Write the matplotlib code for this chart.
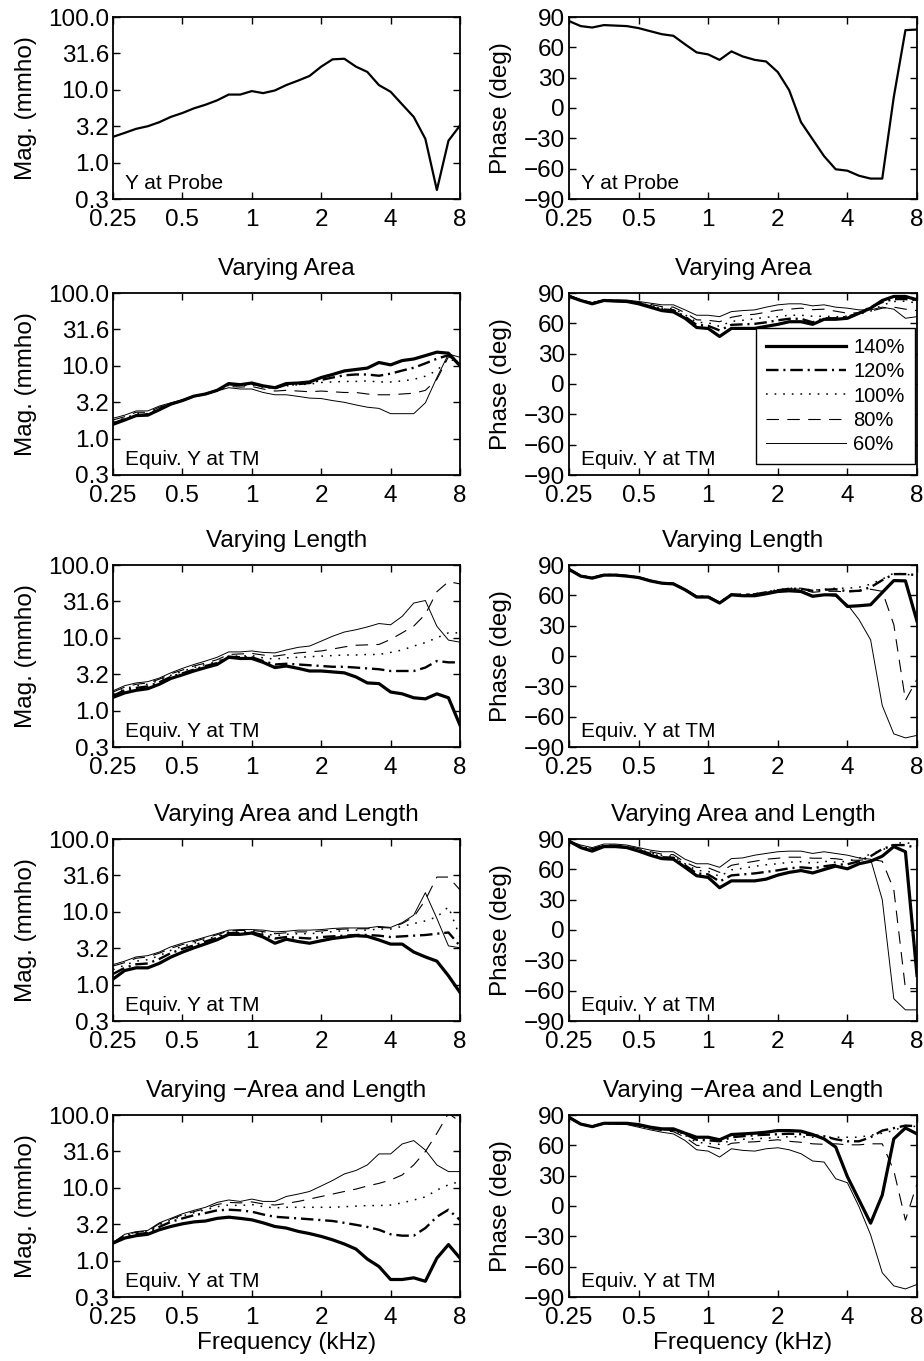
import matplotlib
matplotlib.use("Agg")
import matplotlib.pyplot as plt
from matplotlib.ticker import NullLocator

plt.rcParams['font.family'] = ['Liberation Sans', 'DejaVu Sans']
plt.rcParams['lines.scale_dashes'] = False

# ---------------- data ----------------
freq = [0.25, 0.281, 0.315, 0.354, 0.397, 0.445, 0.5, 0.561, 0.630, 0.707, 0.794, 0.891,
        1.0, 1.12, 1.26, 1.41, 1.59, 1.78, 2.0, 2.24, 2.52, 2.83, 3.17, 3.56, 4.0, 4.49,
        5.04, 5.66, 6.35, 7.13, 8.0]

series_labels = ['140%', '120%', '100%', '80%', '60%']
row_titles = [None, 'Varying Area', 'Varying Length', 'Varying Area and Length',
              'Varying \u2212Area and Length']
x_ticks = [0.25, 0.5, 1, 2, 4, 8]
x_ticklabels = ['0.25', '0.5', '1', '2', '4', '8']
mag_ticks = [10 ** -0.5, 1.0, 10 ** 0.5, 10.0, 10 ** 1.5, 100.0]
mag_ticklabels = ['0.3', '1.0', '3.2', '10.0', '31.6', '100.0']
phase_ticks = [-90, -60, -30, 0, 30, 60, 90]
phase_ticklabels = ['\u221290', '\u221260', '\u221230', '0', '30', '60', '90']

probe_mag = [2.26, 2.56, 2.91, 3.16, 3.59, 4.24, 4.8, 5.56, 6.24, 7.16, 8.6, 8.6, 9.6, 9.0, 9.8,
             11.6, 13.4, 15.5, 20.8, 26.2, 26.7, 20.8, 17.6, 11.6, 9.4, 6.3, 4.24, 2.12, 0.42, 2.0, 3.23]
probe_phase = [86, 81, 79.6, 82, 81.5, 81, 79, 76, 73, 71.4, 63, 55, 53, 47.6, 56, 51, 47.6, 46,
               35.5, 17.6, -14, -31, -47.6, -60.6, -62, -67, -69.8, -69.8, 11, 77, 77.6]

# Varying Area
area_mag_140 = [1.57, 1.80, 2.07, 2.1, 2.49, 2.97, 3.33, 3.83, 4.1, 4.6, 5.7, 5.5, 5.8, 5.3, 5.0,
                5.7, 5.8, 6.0, 6.9, 7.6, 8.5, 8.9, 9.3, 11.1, 10.3, 11.8, 12.4, 13.8, 15.4, 14.9, 10.0]
area_mag_120 = [1.62, 1.85, 2.1, 2.15, 2.55, 2.97, 3.33, 3.83, 4.1, 4.6, 5.6, 5.4, 5.7, 5.2, 4.9,
                5.5, 5.6, 5.8, 6.4, 6.9, 7.4, 7.6, 7.6, 7.3, 7.8, 8.6, 9.4, 10.8, 12.5, 14.0, 10.5]
area_mag_100 = [1.7, 1.9, 2.2, 2.2, 2.6, 3.0, 3.35, 3.83, 4.1, 4.6, 5.4, 5.3, 5.5, 5.1, 5.0,
                5.3, 5.5, 5.6, 5.9, 6.0, 6.1, 6.1, 6.2, 6.0, 6.0, 6.2, 6.5, 7.2, 8.6, 12.5, 11.0]
area_mag_80 = [1.8, 2.0, 2.3, 2.3, 2.7, 3.05, 3.4, 3.83, 4.1, 4.55, 5.2, 5.1, 5.2, 4.8, 4.5,
               4.6, 4.5, 4.4, 4.5, 4.4, 4.3, 4.3, 4.1, 4.0, 4.0, 4.1, 4.2, 4.6, 6.5, 13.3, 12.0]
area_mag_60 = [1.9, 2.1, 2.4, 2.4, 2.8, 3.1, 3.4, 3.83, 4.1, 4.5, 5.0, 4.8, 4.8, 4.3, 4.0,
               4.0, 3.8, 3.6, 3.55, 3.33, 3.15, 2.9, 2.7, 2.6, 2.2, 2.2, 2.2, 3.1, 6.9, 14.5, 13.1]

area_ph_140 = [86.7, 82.6, 79.3, 82.6, 82, 81.6, 79.3, 76, 72.6, 71.3, 65, 55.9, 54.9, 47, 55,
               55, 55, 57, 59, 61.6, 61.6, 59, 64, 64, 65, 70, 75, 82.6, 86.6, 86.6, 83.3]
area_ph_120 = [87, 82.7, 79.6, 82.7, 82.2, 81.9, 79.8, 76.9, 73.8, 73, 66.5, 58.5, 57.5, 53, 58.5,
               59, 59.5, 61, 63, 64.5, 64.5, 61, 65, 65, 66.5, 70, 76, 81, 84, 84, 83]
area_ph_100 = [87.3, 82.8, 80, 82.8, 82.5, 82.2, 80.3, 77.8, 75, 74.5, 68.5, 61, 60.5, 57, 62,
               63, 64.5, 66, 66.6, 68, 68, 67, 67, 66.5, 67, 69, 72, 78, 81.6, 82, 80]
area_ph_80 = [87.5, 83, 80.3, 83, 82.7, 82.5, 80.8, 78.8, 76.5, 76, 70.5, 63.5, 63, 61.6, 66,
              68, 69, 71, 73, 74, 75, 73.5, 74, 72, 70, 70.5, 72, 75, 76, 74, 72.6]
area_ph_60 = [88, 83, 80.6, 83, 83, 83, 81.6, 80, 78.3, 78.3, 73.3, 68, 68, 66.6, 71.6,
              72.6, 73.3, 76, 78.3, 79.3, 79.3, 77.3, 78.3, 76, 75, 73.3, 73.3, 76, 74, 65, 66.6]

# Varying Length
len_mag_140 = [1.52, 1.75, 1.9, 2.0, 2.3, 2.76, 3.1, 3.5, 3.9, 4.3, 5.4, 5.2, 5.2, 4.6, 3.9,
               4.1, 3.8, 3.5, 3.5, 3.4, 3.3, 2.9, 2.4, 2.35, 1.8, 1.7, 1.5, 1.45, 1.7, 1.5, 0.63]
len_mag_120 = [1.6, 1.9, 2.05, 2.15, 2.45, 2.9, 3.25, 3.65, 4.1, 4.5, 5.5, 5.4, 5.4, 4.8, 4.3,
               4.4, 4.3, 4.2, 4.1, 4.0, 4.0, 3.9, 3.8, 3.7, 3.5, 3.5, 3.5, 3.9, 4.8, 4.6, 4.6]
len_mag_100 = [1.7, 2.0, 2.2, 2.3, 2.6, 3.05, 3.45, 3.9, 4.3, 4.7, 5.6, 5.6, 5.7, 5.3, 5.1,
               5.3, 5.4, 5.5, 5.6, 5.7, 5.8, 5.8, 5.9, 5.9, 6.3, 6.8, 7.7, 8.6, 10.0, 11.7, 11.7]
len_mag_80 = [1.8, 2.1, 2.3, 2.4, 2.7, 3.2, 3.6, 4.1, 4.5, 5.0, 5.9, 6.0, 6.1, 5.8, 5.6,
              5.9, 6.2, 6.4, 6.6, 7.0, 7.5, 7.9, 8.0, 8.1, 9.5, 11.7, 14.5, 21, 43, 59, 55]
len_mag_60 = [1.87, 2.2, 2.4, 2.5, 2.8, 3.3, 3.8, 4.3, 4.8, 5.4, 6.4, 6.4, 6.6, 6.3, 6.2,
              6.8, 7.4, 7.7, 9.0, 10.5, 12.0, 12.9, 14.1, 15.7, 15.1, 19.7, 30, 32.5, 14.4, 9.3, 8.7]

len_ph_140 = [85.7, 79, 77, 80, 80, 79, 77.6, 74.3, 72, 71.3, 65.5, 58.3, 58.3, 52.4, 60.5,
              59.6, 59.6, 61.5, 63.8, 64.5, 63.8, 59, 60.5, 60.5, 49, 49.7, 50.7, 62.8, 74.6, 74.3, 34.4]
len_ph_120 = [85.8, 79.3, 77.3, 80.2, 80.2, 79.2, 77.8, 74.5, 72.2, 71.5, 65.7, 58.7, 58.7, 52.7, 60.8,
              60.5, 61, 63, 65, 66.5, 66.5, 64.5, 65.5, 66, 64, 64.5, 68, 75, 81, 81, 80]
len_ph_100 = [86, 79.5, 77.5, 80.5, 80.3, 79.3, 78, 74.8, 72.5, 71.8, 66, 59, 59, 53, 61,
              61, 61.5, 63.5, 65.5, 67, 67, 65, 66, 67, 67, 68, 71, 76, 82, 81, 79]
len_ph_80 = [86, 79.5, 77.5, 80.5, 80.3, 79.3, 78, 74.8, 72.5, 71.8, 66, 59, 59, 53, 61,
             60.5, 61, 63, 65, 66.5, 66, 63, 64, 64, 63.5, 64, 66, 64, 31, -44, -23]
len_ph_60 = [86, 79.5, 77.5, 80.5, 80.3, 79.3, 78, 74.8, 72.5, 71.8, 66, 59, 59, 53, 60.5,
             60, 60, 62, 64.5, 65.5, 64.8, 60, 60.5, 59, 51, 36, 16, -49, -77, -81, -78.5]

# Varying Area and Length
al_mag_140 = [1.19, 1.56, 1.7, 1.7, 1.96, 2.38, 2.79, 3.2, 3.63, 4.13, 4.9, 4.9, 5.1, 4.5, 3.7,
              4.2, 3.9, 3.7, 4.0, 4.3, 4.5, 4.7, 4.6, 4.1, 3.6, 3.6, 2.8, 2.4, 2.1, 1.32, 0.78]
al_mag_120 = [1.4, 1.7, 1.9, 1.95, 2.25, 2.7, 3.1, 3.45, 3.9, 4.4, 5.1, 5.1, 5.2, 4.8, 4.3,
              4.5, 4.4, 4.3, 4.5, 4.6, 4.7, 4.8, 4.8, 4.7, 4.5, 4.6, 4.7, 4.8, 5.0, 5.2, 3.4]
al_mag_100 = [1.6, 1.85, 2.1, 2.2, 2.5, 2.95, 3.35, 3.7, 4.15, 4.65, 5.3, 5.35, 5.4, 5.1, 4.7,
              4.9, 5.0, 5.0, 5.15, 5.35, 5.5, 5.6, 5.6, 5.8, 5.8, 6.3, 6.9, 7.5, 8.5, 11.7, 4.5]
al_mag_80 = [1.8, 2.0, 2.3, 2.4, 2.7, 3.15, 3.55, 3.9, 4.35, 4.85, 5.45, 5.55, 5.55, 5.35, 5.0,
             5.15, 5.3, 5.3, 5.45, 5.65, 5.8, 5.85, 5.85, 6.1, 6.0, 6.9, 8.5, 14.5, 30, 30, 20]
al_mag_60 = [1.88, 2.1, 2.4, 2.5, 2.8, 3.3, 3.7, 4.05, 4.5, 5.0, 5.6, 5.7, 5.7, 5.6, 5.3,
             5.4, 5.6, 5.6, 5.7, 5.9, 6.0, 6.0, 6.0, 6.3, 6.1, 7.1, 9.0, 18.3, 8.1, 3.4, 3.2]

al_ph_140 = [88, 81.5, 78, 82.5, 82.5, 81.5, 78, 74, 70.6, 70, 62, 53.7, 52, 41.8, 48.6,
             48.6, 48.6, 50.3, 54.3, 57, 58.8, 56.4, 59.8, 63.2, 60.5, 65.5, 68, 73, 82.5, 77.4, -45]
al_ph_120 = [87.5, 82, 79, 83, 83, 82, 79, 75.5, 72, 71.5, 64, 56, 55, 48, 54,
             55, 56, 57.5, 59, 61, 62, 61, 63, 64.5, 65, 68, 73, 80, 84, 84, 81]
al_ph_100 = [87.5, 82.5, 80, 83.5, 83.5, 82.5, 79.5, 76.5, 73.5, 73, 65.5, 59, 58, 53, 59.5,
             61, 63, 64.5, 65.5, 67, 67.5, 66, 68, 67, 68, 71, 75, 79, 85, 87, 83]
al_ph_80 = [88, 83, 80.5, 84, 84, 83, 80.5, 77.5, 75, 74.5, 67, 62, 61.5, 57, 64,
            66, 68, 70, 71, 72, 72, 71, 71, 70.5, 69, 69, 70, 68, 40, -58, -58]
al_ph_60 = [88, 84, 81.5, 85, 85, 84, 81.5, 79, 77.4, 77.4, 70, 65.5, 65.5, 62, 70.6,
            71.3, 74, 75.7, 77.4, 78, 78, 75.7, 77.4, 75.7, 74, 71.3, 70, 30, -68, -79, -79]

# Varying -Area and Length
nal_mag_140 = [1.74, 2.04, 2.2, 2.3, 2.65, 2.94, 3.2, 3.4, 3.5, 3.8, 3.95, 3.8, 3.63, 3.3, 2.94,
               2.8, 2.52, 2.35, 2.15, 1.93, 1.69, 1.44, 1.05, 0.83, 0.55, 0.55, 0.58, 0.52, 1.08, 1.66, 1.08]
nal_mag_120 = [1.75, 2.1, 2.3, 2.4, 2.9, 3.4, 3.8, 4.2, 4.5, 4.9, 5.0, 4.9, 4.7, 4.3, 4.0,
               3.9, 3.8, 3.7, 3.6, 3.5, 3.3, 3.1, 2.9, 2.65, 2.3, 2.2, 2.2, 2.8, 4.0, 5.0, 3.6]
nal_mag_100 = [1.76, 2.2, 2.4, 2.5, 3.1, 3.6, 4.1, 4.55, 5.0, 5.5, 5.8, 5.7, 5.9, 5.5, 5.3,
               5.4, 5.4, 5.4, 5.4, 5.4, 5.5, 5.6, 5.7, 5.7, 5.8, 6.2, 6.8, 7.5, 9.3, 11, 12.2]
nal_mag_80 = [1.77, 2.25, 2.45, 2.55, 3.2, 3.7, 4.25, 4.7, 5.2, 5.9, 6.3, 6.2, 6.4, 6.0, 5.8,
              6.1, 6.5, 7.0, 7.6, 8.2, 8.9, 9.6, 10.6, 11.5, 12.8, 15, 20.6, 31.5, 56, 105, 81]
nal_mag_60 = [1.78, 2.3, 2.5, 2.6, 3.3, 3.8, 4.4, 4.9, 5.4, 6.3, 6.8, 6.5, 7.0, 6.5, 6.5,
              7.6, 8.2, 8.9, 10.6, 12.6, 15.5, 17.3, 20.6, 29.2, 29.2, 40, 44.5, 33, 20.6, 16.7, 16.7]

nal_ph_140 = [87.7, 81, 78.5, 81.8, 81.8, 81.8, 80.5, 78, 76.3, 76.3, 72, 68, 68, 65.5, 70.7,
              71.3, 72, 73, 74.6, 74.6, 74, 70.7, 66.4, 58.3, 29, 6, -17, 10.8, 66.4, 77.2, 71.3]
nal_ph_120 = [87.7, 81, 78.5, 81.8, 81.7, 81.5, 80, 77.5, 75.8, 75.4, 71, 65.5, 65, 64, 68,
              69, 70, 70.5, 71, 71.5, 71, 70, 69, 66, 64, 64, 68, 74.6, 77, 79.5, 79]
nal_ph_100 = [87.7, 81, 78.5, 81.8, 81.6, 81.3, 79.5, 77, 75.3, 74.5, 70, 63, 62, 61, 65,
              66, 66.5, 67, 68, 68.5, 68.5, 68, 68, 68, 68, 68, 70, 72, 74.6, 79.5, 78.5]
nal_ph_80 = [87.7, 81, 78.5, 81.8, 81.5, 81, 79, 76.5, 74.5, 73.5, 68, 60, 59, 56.6, 62,
             63, 63.5, 64.5, 65.5, 64, 63, 61.5, 61, 61.5, 60.5, 60.5, 61.5, 61.5, 35, -14, 22]
nal_ph_60 = [87.7, 81, 78.5, 81.8, 81.2, 80.5, 77.9, 75.3, 73, 71.3, 64.8, 55.6, 54.3, 48.4, 56.6,
             55, 54.3, 56.6, 57.6, 55.6, 51.7, 44.5, 43.5, 27, 23, -0.7, -28.5, -66, -79, -82, -77.6]

# ---------------- styles ----------------
styles = [
    dict(color='black', lw=2.3, linestyle='-'),
    dict(color='black', lw=1.7, linestyle=(0, (9, 3.5, 1.5, 3.5))),
    dict(color='black', lw=1.1, linestyle=(0, (1.2, 5.0))),
    dict(color='black', lw=0.8, linestyle=(0, (9, 6))),
    dict(color='black', lw=0.7, linestyle='-'),
]

FS = 17.5
W, H = 924, 1361
fig = plt.figure(figsize=(W / 100, H / 100), dpi=100)

col_x = [113, 569]
col_w = [347, 348]
row_top = [17, 293, 565, 839, 1115]
ax_h = 182


def make_ax(r, c):
    left = col_x[c] / W
    bottom = 1 - (row_top[r] + ax_h) / H
    ax = fig.add_axes([left, bottom, col_w[c] / W, ax_h / H])
    ax.set_xscale('log')
    ax.set_xlim(0.25, 8)
    ax.set_xticks(x_ticks)
    ax.set_xticklabels(x_ticklabels)
    ax.xaxis.set_minor_locator(NullLocator())
    ax.tick_params(direction='in', top=True, right=True, labelsize=FS, length=5,
                   width=1.0)
    ax.tick_params(axis='x', pad=7)
    ax.tick_params(axis='y', pad=3)
    for s in ax.spines.values():
        s.set_linewidth(1.3)
    if c == 0:
        ax.set_yscale('log')
        ax.set_ylim(10 ** -0.5, 100)
        ax.set_yticks(mag_ticks)
        ax.set_yticklabels(mag_ticklabels)
        ax.yaxis.set_minor_locator(NullLocator())
        ax.set_ylabel('Mag. (mmho)', fontsize=FS, labelpad=8)
    else:
        ax.set_ylim(-90, 90)
        ax.set_yticks(phase_ticks)
        ax.set_yticklabels(phase_ticklabels)
        ax.set_ylabel('Phase (deg)', fontsize=FS, labelpad=8)
    if row_titles[r]:
        ax.set_title(row_titles[r], fontsize=FS, pad=13)
    if r == 4:
        ax.set_xlabel('Frequency (kHz)', fontsize=FS, labelpad=2)
    return ax


# row 0: probe
ax = make_ax(0, 0)
ax.plot(freq, probe_mag, color='black', lw=1.6)
ax.text(0.035, 0.035, 'Y at Probe', transform=ax.transAxes, fontsize=15, va='bottom')
ax = make_ax(0, 1)
ax.plot(freq, probe_phase, color='black', lw=1.6)
ax.text(0.035, 0.035, 'Y at Probe', transform=ax.transAxes, fontsize=15, va='bottom')

rows_mag = [
    [area_mag_140, area_mag_120, area_mag_100, area_mag_80, area_mag_60],
    [len_mag_140, len_mag_120, len_mag_100, len_mag_80, len_mag_60],
    [al_mag_140, al_mag_120, al_mag_100, al_mag_80, al_mag_60],
    [nal_mag_140, nal_mag_120, nal_mag_100, nal_mag_80, nal_mag_60],
]
rows_ph = [
    [area_ph_140, area_ph_120, area_ph_100, area_ph_80, area_ph_60],
    [len_ph_140, len_ph_120, len_ph_100, len_ph_80, len_ph_60],
    [al_ph_140, al_ph_120, al_ph_100, al_ph_80, al_ph_60],
    [nal_ph_140, nal_ph_120, nal_ph_100, nal_ph_80, nal_ph_60],
]

for i in range(4):
    r = i + 1
    axm = make_ax(r, 0)
    axp = make_ax(r, 1)
    for data, st, lab in zip(rows_mag[i], styles, series_labels):
        axm.plot(freq, data, label=lab, **st)
    handles = []
    for data, st, lab in zip(rows_ph[i], styles, series_labels):
        h, = axp.plot(freq, data, label=lab, **st)
        handles.append(h)
    for a in (axm, axp):
        a.text(0.035, 0.035, 'Equiv. Y at TM', transform=a.transAxes, fontsize=15,
               va='bottom')
    if r == 1:
        leg = axp.legend(handles=handles, loc='lower right', bbox_to_anchor=(0.994, 0.06),
                         fontsize=14.5, handlelength=4.0, handletextpad=0.35,
                         labelspacing=0.26, borderpad=0.5, borderaxespad=0.0,
                         fancybox=False, edgecolor='black', framealpha=1)
        leg.get_frame().set_linewidth(1.0)

fig.savefig('out.png', dpi=100)
